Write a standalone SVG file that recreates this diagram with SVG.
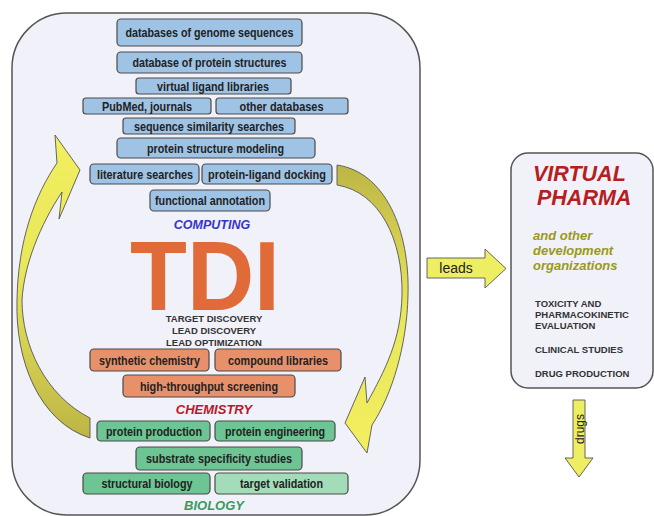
<svg xmlns="http://www.w3.org/2000/svg" width="654" height="516" viewBox="0 0 654 516">
<defs>
<linearGradient id="gL" x1="0" y1="0" x2="0" y2="1">
<stop offset="0" stop-color="#f2f060"/><stop offset="0.45" stop-color="#e8e65a"/><stop offset="1" stop-color="#bdb546"/>
</linearGradient>
<linearGradient id="gR" x1="0" y1="0" x2="0" y2="1">
<stop offset="0" stop-color="#bdb546"/><stop offset="0.5" stop-color="#e8e65a"/><stop offset="1" stop-color="#f2f060"/>
</linearGradient>
<style>
.panel{fill:#f1f1fa;stroke:#555;stroke-width:1.5}
.bx{stroke:#4a4a4a;stroke-width:1.2}
.blue{fill:#9fc3e5}
.orange{fill:#e8906a}
.green{fill:#6cc593}
.lgreen{fill:#a3dcb8}
.t{font-family:"Liberation Sans",Arial,sans-serif;font-weight:bold;font-size:12.5px;fill:#222;text-anchor:middle}
.cap{font-family:"Liberation Sans",Arial,sans-serif;font-weight:bold;font-size:9.5px;fill:#333}
.hd{font-family:"Liberation Sans",Arial,sans-serif;font-weight:bold;font-style:italic;text-anchor:middle}
.arr{stroke:#555;stroke-width:0.9}
</style>
</defs>
<rect width="654" height="516" fill="#ffffff"/>

<g id="tdi-panel">
<rect class="panel" x="12" y="13" width="408" height="502" rx="55" ry="55"/>
<text class="hd" x="212" y="229" font-size="12.5" fill="#3535cc">COMPUTING</text>
<text x="130" y="310" font-family="Liberation Sans,Arial,sans-serif" font-weight="bold" font-size="98" fill="#e06a38" textLength="150" lengthAdjust="spacingAndGlyphs">TDI</text>
<text class="cap" x="214" y="322" text-anchor="middle">TARGET DISCOVERY</text>
<text class="cap" x="214" y="334" text-anchor="middle">LEAD DISCOVERY</text>
<text class="cap" x="214" y="346" text-anchor="middle">LEAD OPTIMIZATION</text>
<text class="hd" x="214" y="414" font-size="13" fill="#c0142a">CHEMISTRY</text>
<text class="hd" x="214" y="510" font-size="13" fill="#3a9a5a">BIOLOGY</text>
</g>

<g id="n1"><rect class="bx blue" x="117" y="19" width="185" height="27" rx="4"/><text class="t" x="209.5" y="37" textLength="168" lengthAdjust="spacingAndGlyphs">databases of genome sequences</text></g>
<g id="n2"><rect class="bx blue" x="117" y="52" width="185" height="21" rx="4"/><text class="t" x="209.5" y="67" textLength="154" lengthAdjust="spacingAndGlyphs">database of protein structures</text></g>
<g id="n3"><rect class="bx blue" x="136" y="78" width="155" height="16" rx="3"/><text class="t" x="213" y="90.5" textLength="112" lengthAdjust="spacingAndGlyphs">virtual ligand libraries</text></g>
<g id="n4"><rect class="bx blue" x="83" y="98" width="128" height="16" rx="3"/><text class="t" x="147" y="110.5" textLength="90" lengthAdjust="spacingAndGlyphs">PubMed, journals</text></g>
<g id="n5"><rect class="bx blue" x="216" y="98" width="132" height="16" rx="3"/><text class="t" x="281.5" y="110.5" textLength="84" lengthAdjust="spacingAndGlyphs">other databases</text></g>
<g id="n6"><rect class="bx blue" x="123" y="118" width="172" height="16" rx="3"/><text class="t" x="209" y="130.5" textLength="150" lengthAdjust="spacingAndGlyphs">sequence similarity searches</text></g>
<g id="n7"><rect class="bx blue" x="117" y="138" width="198" height="20" rx="4"/><text class="t" x="215.5" y="152.5" textLength="137" lengthAdjust="spacingAndGlyphs">protein structure modeling</text></g>
<g id="n8"><rect class="bx blue" x="90" y="164" width="109" height="20" rx="4"/><text class="t" x="145" y="178.5" textLength="96" lengthAdjust="spacingAndGlyphs">literature searches</text></g>
<g id="n9"><rect class="bx blue" x="202" y="164" width="130" height="20" rx="4"/><text class="t" x="267" y="178.5" textLength="118" lengthAdjust="spacingAndGlyphs">protein-ligand docking</text></g>
<g id="n10"><rect class="bx blue" x="150" y="190" width="120" height="21" rx="4"/><text class="t" x="210" y="205" textLength="110" lengthAdjust="spacingAndGlyphs">functional annotation</text></g>

<g id="n11"><rect class="bx orange" x="90" y="349" width="119" height="22" rx="4"/><text class="t" x="149.5" y="364.5" textLength="101" lengthAdjust="spacingAndGlyphs">synthetic chemistry</text></g>
<g id="n12"><rect class="bx orange" x="215" y="349" width="126" height="22" rx="4"/><text class="t" x="278" y="364.5" textLength="100" lengthAdjust="spacingAndGlyphs">compound libraries</text></g>
<g id="n13"><rect class="bx orange" x="123" y="375" width="172" height="22" rx="4"/><text class="t" x="209" y="390.5" textLength="138" lengthAdjust="spacingAndGlyphs">high-throughput screening</text></g>

<g id="n14"><rect class="bx green" x="97" y="421" width="113" height="20" rx="4"/><text class="t" x="154" y="435.5" textLength="96" lengthAdjust="spacingAndGlyphs">protein production</text></g>
<g id="n15"><rect class="bx green" x="215" y="421" width="120" height="20" rx="4"/><text class="t" x="275" y="435.5" textLength="100" lengthAdjust="spacingAndGlyphs">protein engineering</text></g>
<g id="n16"><rect class="bx green" x="136" y="447" width="166" height="23" rx="4"/><text class="t" x="219" y="463" textLength="146" lengthAdjust="spacingAndGlyphs">substrate specificity studies</text></g>
<g id="n17"><rect class="bx green" x="83" y="473" width="127" height="21" rx="4"/><text class="t" x="147" y="488" textLength="91" lengthAdjust="spacingAndGlyphs">structural biology</text></g>
<g id="n18"><rect class="bx lgreen" x="215" y="473" width="133" height="21" rx="4"/><text class="t" x="281.5" y="488" textLength="83" lengthAdjust="spacingAndGlyphs">target validation</text></g>

<g id="pharma">
<rect class="panel" x="511" y="153" width="142" height="235" rx="17" ry="17"/>
<g font-family="Liberation Sans,Arial,sans-serif" font-weight="bold" font-style="italic">
<text x="533" y="181" font-size="21.5" fill="#b3201e">VIRTUAL</text>
<text x="537" y="205" font-size="21.5" fill="#b3201e">PHARMA</text>
<text x="533" y="240" font-size="13" fill="#9a9a16">and other</text>
<text x="533" y="255" font-size="13" fill="#9a9a16">development</text>
<text x="533" y="270" font-size="13" fill="#9a9a16">organizations</text>
</g>
<text class="cap" x="535" y="307" font-size="9.3">TOXICITY AND</text>
<text class="cap" x="535" y="318" font-size="9.3">PHARMACOKINETIC</text>
<text class="cap" x="535" y="329" font-size="9.3">EVALUATION</text>
<text class="cap" x="535" y="353" font-size="9.3">CLINICAL STUDIES</text>
<text class="cap" x="535" y="377" font-size="9.3">DRUG PRODUCTION</text>
</g>

<g id="connectors">
<path class="arr" fill="url(#gL)" d="M57,163 L55,135 L80,170 L59,219 L62,192 C40,225 24,265 22,300 C22,345 45,395 90,418 L90,438 C40,422 15,362 17,300 C18,240 35,195 57,163 Z"/>
<path class="arr" fill="url(#gR)" d="M337,165 C385,172 410,230 408,295 C407,345 392,395 372,425 L367,453 L345,423 L365,377 L367,403 C385,370 401,340 402,295 C403,240 380,192 337,185 Z"/>
<g id="leads">
<path class="arr" fill="#eeee62" d="M427,258 L485,258 L485,249 L506,268.5 L485,288 L485,278 L427,278 Z"/>
<text x="456" y="273" font-family="Liberation Sans,Arial,sans-serif" font-size="14" fill="#222" text-anchor="middle">leads</text>
</g>
<g id="drugs">
<path class="arr" fill="#eeee62" d="M573,400 L585,400 L585,458 L593,458 L579,477 L565,458 L573,458 Z"/>
<text transform="translate(583.5,429) rotate(-90)" font-family="Liberation Sans,Arial,sans-serif" font-size="12" fill="#222" text-anchor="middle">drugs</text>
</g>
</g>
</svg>
